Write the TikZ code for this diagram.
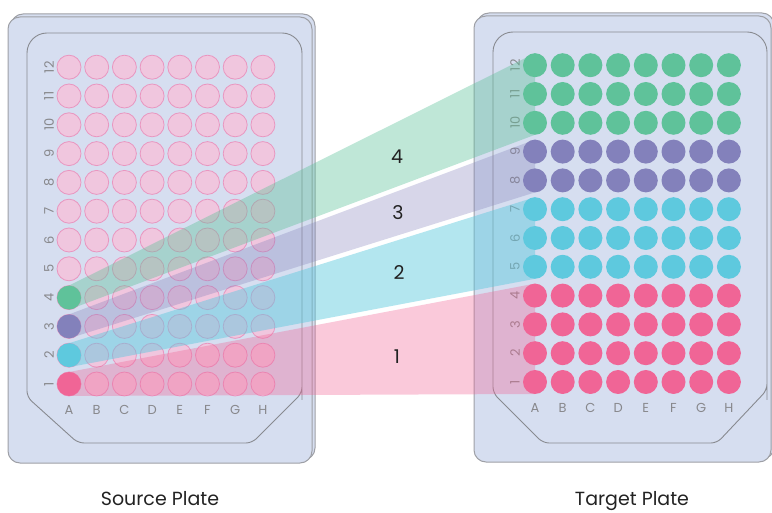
\documentclass[tikz,border=0pt]{standalone}
\usepackage{fontspec}
\setmainfont{Poppins}
\pgfdeclarelayer{platelayer}
\pgfdeclarelayer{beamlayer}
\pgfsetlayers{platelayer,beamlayer,main}
\definecolor{platefill}{RGB}{214,222,240}
\definecolor{plateedge}{RGB}{158,160,166}
\definecolor{inneredge}{RGB}{136,138,144}
\definecolor{labelgray}{RGB}{136,136,140}
\definecolor{wellpink}{RGB}{240,101,150}
\definecolor{wellcyan}{RGB}{94,201,222}
\definecolor{wellpurple}{RGB}{131,129,187}
\definecolor{wellgreen}{RGB}{95,194,154}
\definecolor{emptyfill}{RGB}{240,198,222}
\definecolor{emptyedge}{RGB}{233,150,192}
\definecolor{numtext}{RGB}{34,34,34}
\tikzset{
  plate/.style={fill=platefill, draw=plateedge, line width=1pt, rounded corners=12pt},
  innerrim/.style={draw=inneredge, line width=0.9pt},
  well/.style={circle, minimum size=24pt, inner sep=0pt, outer sep=0pt},
  emptywell/.style={well, fill=emptyfill, draw=emptyedge, line width=0.8pt},
  fullwell/.style={well, draw=none},
  rowlabel/.style={text=labelgray, font=\fontsize{13}{13}\selectfont, rotate=90, inner sep=0pt},
  collabel/.style={text=labelgray, font=\fontsize{13}{13}\selectfont, inner sep=0pt},
  beam/.style={draw=none},
  beamnum/.style={text=numtext, font=\fontsize{19}{19}\selectfont, inner sep=0pt},
  platename/.style={text=numtext, font=\fontsize{19}{19}\selectfont, inner sep=0pt, anchor=base}
}
\begin{document}
\begin{tikzpicture}[x=1pt, y=-1pt]
\useasboundingbox (0,0) rectangle (772,513);
\clip (0,0) rectangle (772,513);

\begin{pgfonlayer}{platelayer}
% ---- source plate body ----
\draw[plate] (11,14) rectangle (315,460);
\draw[plate] (8,17) rectangle (312,463);
\draw[innerrim] (27,380) [rounded corners=20pt] -- (27,33) -- (302,33) -- (302,380)
  [rounded corners=6pt] -- (302,393) -- (252,443) -- (78,443) -- (27,397) -- cycle;

% ---- target plate body ----
\draw[plate] (477,13) rectangle (774,459);
\draw[plate] (474,16) rectangle (771,462);
\draw[innerrim] (493,380) [rounded corners=20pt] -- (493,32) -- (767,32) -- (767,380)
  [rounded corners=6pt] -- (767,390) -- (717,443) -- (543,443) -- (493,393) -- cycle;

% ---- labels on both plates ----
\foreach \c [count=\i from 0] in {A,B,C,D,E,F,G,H} {
  \node[collabel] (scol\c) at (69+27.7*\i,410) {\c};
  \node[collabel] (tcol\c) at (535+27.7*\i,408) {\c};
}
\foreach \r in {1,...,12} {
  \node[rowlabel] (srow\r) at (49,384-28.8*\r+28.8) {\r};
  \node[rowlabel] (trow\r) at (515,382-28.8*\r+28.8) {\r};
}

% ---- empty source wells ----
\foreach \c [count=\i from 0] in {A,B,C,D,E,F,G,H} {
  \foreach \r in {1,...,12} {
    \node[emptywell] (s\c\r) at (69+27.7*\i,384-28.8*\r+28.8) {};
  }
}
\end{pgfonlayer}

% ---- filled source wells ----
\node[fullwell, fill=wellpink]   (srcA1) at (sA1) {};
\node[fullwell, fill=wellcyan]   (srcA2) at (sA2) {};
\node[fullwell, fill=wellpurple] (srcA3) at (sA3) {};
\node[fullwell, fill=wellgreen]  (srcA4) at (sA4) {};

% ---- target wells ----
\foreach \c [count=\i from 0] in {A,B,C,D,E,F,G,H} {
  \foreach \r/\col in {1/wellpink,2/wellpink,3/wellpink,4/wellpink,
                       5/wellcyan,6/wellcyan,7/wellcyan,
                       8/wellpurple,9/wellpurple,
                       10/wellgreen,11/wellgreen,12/wellgreen} {
    \node[fullwell, fill=\col] (t\c\r) at (535+27.7*\i,382-28.8*\r+28.8) {};
  }
}

% ---- transfer beams, under the wells ----
\begin{pgfonlayer}{beamlayer}
\fill[beam, wellpink,   fill opacity=0.35] (srcA1.north) -- (tA4.north) -- (tA1.south) -- (srcA1.south) -- cycle;
\fill[beam, wellcyan,   fill opacity=0.47] (srcA2.north) -- (tA7.north) -- (tA5.south) -- (srcA2.south) -- cycle;
\fill[beam, wellpurple, fill opacity=0.32] (srcA3.north) -- (tA9.north) -- (tA8.south) -- (srcA3.south) -- cycle;
\fill[beam, wellgreen,  fill opacity=0.40] (srcA4.north) -- (tA12.north) -- (tA10.south) -- (srcA4.south) -- cycle;
\end{pgfonlayer}

% ---- beam numbers ----
\node[beamnum] (n4) at (397,157) {4};
\node[beamnum] (n3) at (398,213) {3};
\node[beamnum] (n2) at (399,273) {2};
\node[beamnum] (n1) at (397,357) {1};

% ---- plate titles ----
\node[platename] (srcname) at (160,505) {Source Plate};
\node[platename] (tgtname) at (632,505) {Target Plate};
\end{tikzpicture}
\end{document}
